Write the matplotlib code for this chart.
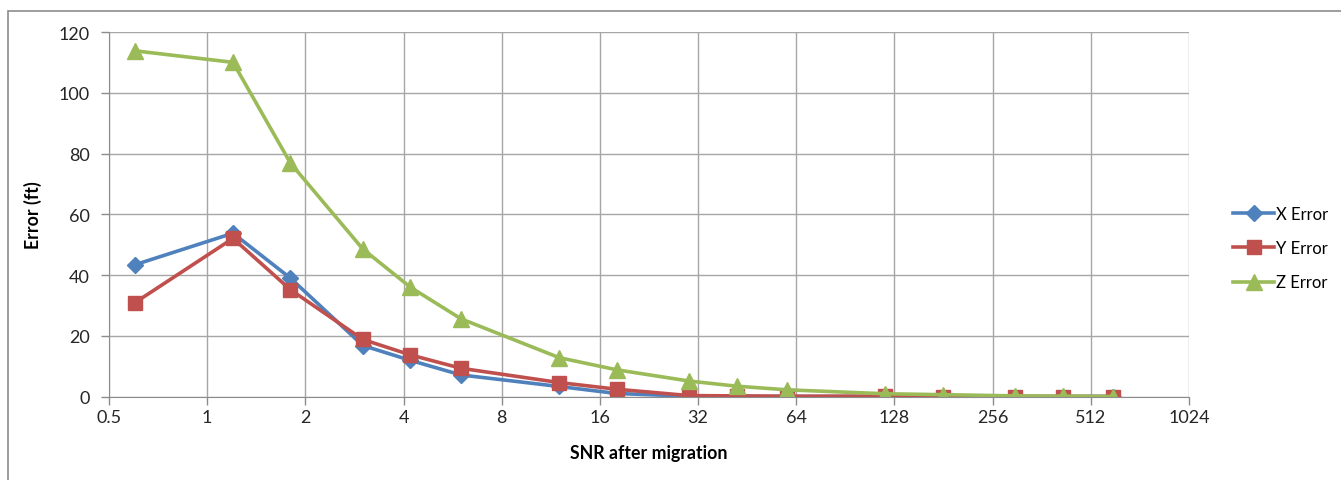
import matplotlib.pyplot as plt
from matplotlib.patches import Rectangle

snr = [0.6, 1.2, 1.8, 3, 4.2, 6, 12, 18, 30, 42, 60, 120, 180, 300, 420, 600]
x_err = [43.4, 53.8, 39.0, 16.8, 11.9, 7.1, 3.3, 1.0, 0.1, 0.0, 0.0, 0.0, 0.0, 0.0, 0.0, 0.0]
y_err = [30.9, 52.1, 35.2, 18.8, 13.7, 9.3, 4.6, 2.4, 0.3, 0.2, 0.1, 0.1, 0.0, 0.0, 0.0, 0.0]
z_err = [113.9, 110.1, 76.9, 48.6, 36.0, 25.6, 12.8, 8.8, 5.1, 3.4, 2.2, 0.9, 0.6, 0.2, 0.1, 0.0]

xticks = [0.5, 1, 2, 4, 8, 16, 32, 64, 128, 256, 512, 1024]
yticks = [0, 20, 40, 60, 80, 100, 120]

plt.rcParams['font.family'] = ['Lato', 'DejaVu Sans']

W, H = 1341, 481
fig = plt.figure(figsize=(W / 100, H / 100), dpi=100)
ax = fig.add_axes([109 / W, 1 - 397.5 / H, (1189 - 109) / W, (397.5 - 33.3) / H])

# chart border
fig.patches.append(Rectangle((8 / W, -0.1), 1.2, (481 - 12) / H + 0.1,
                             transform=fig.transFigure, fill=False,
                             edgecolor='#8c8c8c', lw=1.2))

ax.plot(snr, x_err, color='#4F81BD', lw=2.6, marker='D', ms=8, label='X Error')
ax.plot(snr, y_err, color='#C0504D', lw=2.6, marker='s', ms=10, label='Y Error')
ax.plot(snr, z_err, color='#9BBB59', lw=2.6, marker='^', ms=11, label='Z Error')

ax.set_xscale('log', base=2)
ax.set_xlim(0.5, 1024)
ax.set_ylim(0, 120)
ax.set_xticks(xticks)
ax.set_xticklabels([str(t) for t in xticks])
ax.minorticks_off()
ax.set_yticks(yticks)

ax.grid(True, color='#a6a6a6', lw=1)
ax.set_axisbelow(True)
for s in ['top', 'right']:
    ax.spines[s].set_visible(False)
for s in ['left', 'bottom']:
    ax.spines[s].set_color('#8c8c8c')
ax.tick_params(axis='both', colors='#8c8c8c', labelcolor='#262626',
               labelsize=13, length=6, width=1)
ax.tick_params(axis='y', pad=8)
ax.tick_params(axis='x', pad=3)

ax.set_xlabel('SNR after migration', fontsize=12.8, fontweight='bold', labelpad=14)
ax.set_ylabel('Error (ft)', fontsize=12.8, fontweight='bold', labelpad=12)

ax.legend(loc='center left', bbox_to_anchor=(1226 / W, (H - 249) / H),
          bbox_transform=fig.transFigure, frameon=False, fontsize=12,
          handlelength=2.5, handletextpad=0.1, labelspacing=1.1,
          borderaxespad=0)

fig.savefig('out.png', dpi=100)
